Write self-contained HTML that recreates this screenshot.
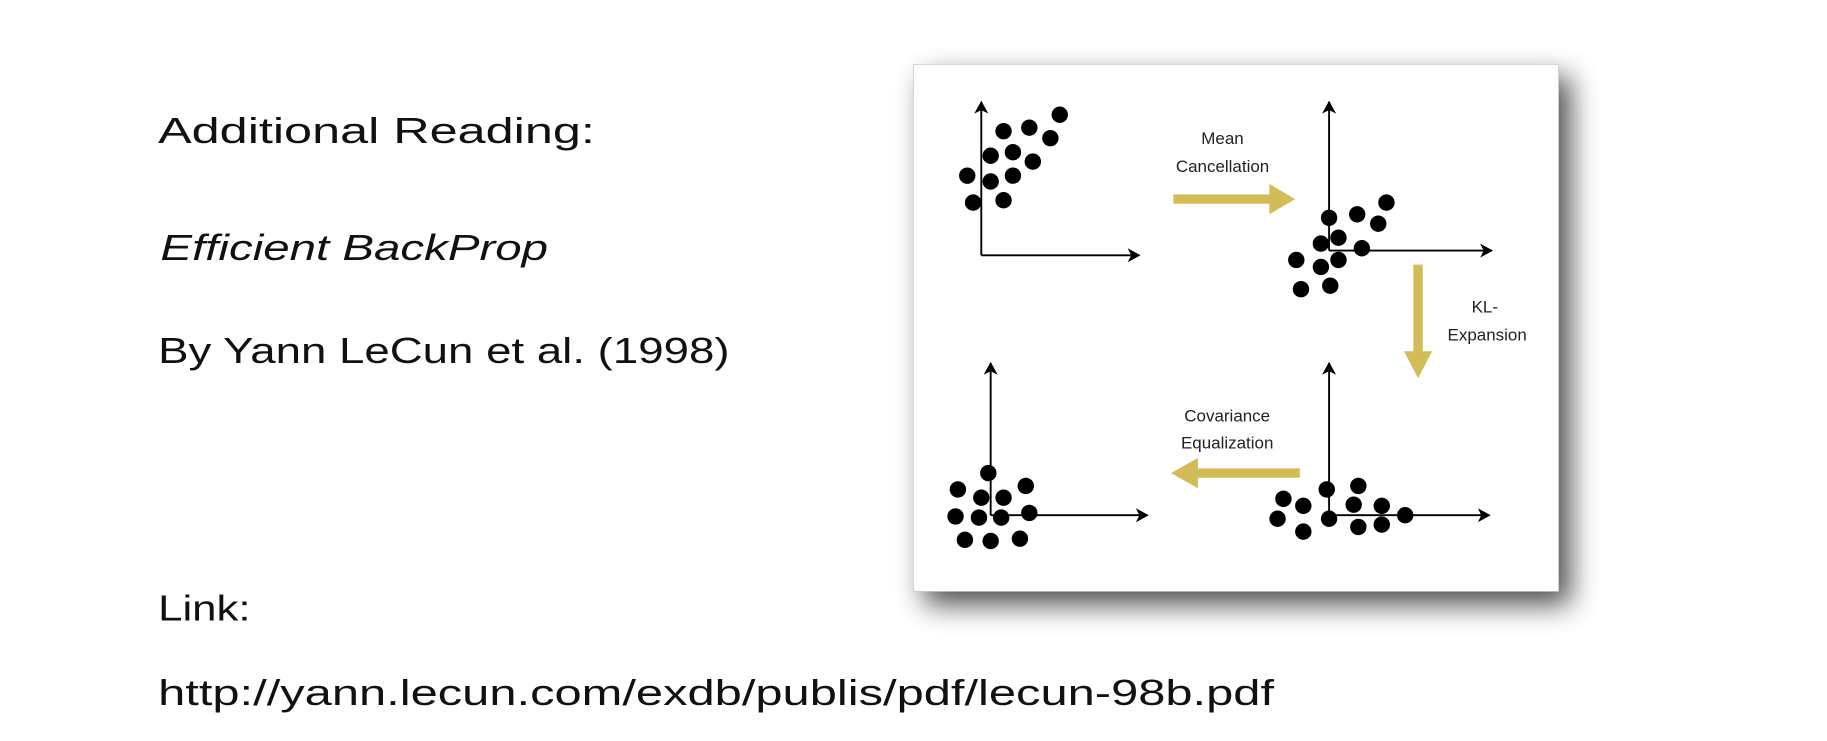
<!DOCTYPE html>
<html><head><meta charset="utf-8"><style>
html,body{margin:0;padding:0;background:#fff;width:1827px;height:741px;overflow:hidden}
svg{display:block}
</style></head><body>
<svg width="1827" height="741" viewBox="0 0 1560.2 632.8" xmlns="http://www.w3.org/2000/svg">
<defs>
<filter id="sh" x="-15%" y="-15%" width="140%" height="140%">
<feGaussianBlur in="SourceAlpha" stdDeviation="12"/>
<feOffset dx="10" dy="11"/>
<feComponentTransfer><feFuncA type="linear" slope="0.7"/></feComponentTransfer>
<feMerge><feMergeNode/><feMergeNode in="SourceGraphic"/></feMerge>
</filter>
<marker id="ah" markerWidth="12" markerHeight="12" refX="10" refY="6" orient="auto" markerUnits="userSpaceOnUse">
<path d="M0,0 L11,6 L0,12 L3,6 Z" fill="#000"/>
</marker>
</defs>
<g font-family="'Liberation Sans',sans-serif" fill="#111" font-size="31">
<text x="135" y="122" textLength="373" lengthAdjust="spacingAndGlyphs">Additional Reading:</text>
<text x="137" y="222" font-style="italic" textLength="331" lengthAdjust="spacingAndGlyphs">Efficient BackProp</text>
<text x="135" y="310" textLength="488" lengthAdjust="spacingAndGlyphs">By Yann LeCun et al. (1998)</text>
<text x="135" y="530" textLength="79" lengthAdjust="spacingAndGlyphs">Link:</text>
<text x="135" y="602" textLength="953" lengthAdjust="spacingAndGlyphs">http://yann.lecun.com/exdb/publis/pdf/lecun-98b.pdf</text>
</g>
<rect x="780" y="55" width="551" height="450" fill="#fff" stroke="#bbb" stroke-width="0.5" filter="url(#sh)"/>
<g stroke="#000" stroke-width="1.6" fill="none" marker-end="url(#ah)">
<line x1="838" y1="218" x2="838" y2="87"/><line x1="838" y1="218" x2="973" y2="218"/>
<line x1="1135" y1="214" x2="1135" y2="87"/><line x1="1135" y1="214" x2="1274" y2="214"/>
<line x1="846" y1="440" x2="846" y2="310"/><line x1="846" y1="440" x2="980" y2="440"/>
<line x1="1135" y1="440" x2="1135" y2="310"/><line x1="1135" y1="440" x2="1272" y2="440"/>
</g>
<g fill="#000">
<circle cx="857" cy="112" r="7"/><circle cx="879" cy="109" r="7"/><circle cx="905" cy="98" r="7"/><circle cx="897" cy="118" r="7"/><circle cx="846" cy="133" r="7"/><circle cx="865" cy="130" r="7"/><circle cx="882" cy="138" r="7"/><circle cx="826" cy="150" r="7"/><circle cx="846" cy="155" r="7"/><circle cx="865" cy="150" r="7"/><circle cx="831" cy="173" r="7"/><circle cx="857" cy="171" r="7"/>
<circle cx="1135" cy="186" r="7"/><circle cx="1159" cy="183" r="7"/><circle cx="1184" cy="173" r="7"/><circle cx="1177" cy="191" r="7"/><circle cx="1128" cy="208" r="7"/><circle cx="1143" cy="203" r="7"/><circle cx="1163" cy="212" r="7"/><circle cx="1107" cy="222" r="7"/><circle cx="1128" cy="228" r="7"/><circle cx="1143" cy="222" r="7"/><circle cx="1111" cy="247" r="7"/><circle cx="1136" cy="244" r="7"/>
<circle cx="844" cy="404" r="7"/><circle cx="818" cy="418" r="7"/><circle cx="838" cy="425" r="7"/><circle cx="857" cy="425" r="7"/><circle cx="876" cy="415" r="7"/><circle cx="816" cy="441" r="7"/><circle cx="836" cy="442" r="7"/><circle cx="855" cy="442" r="7"/><circle cx="879" cy="438" r="7"/><circle cx="824" cy="461" r="7"/><circle cx="846" cy="462" r="7"/><circle cx="871" cy="460" r="7"/>
<circle cx="1133" cy="418" r="7"/><circle cx="1160" cy="415" r="7"/><circle cx="1096" cy="426" r="7"/><circle cx="1113" cy="432" r="7"/><circle cx="1156" cy="431" r="7"/><circle cx="1180" cy="432" r="7"/><circle cx="1091" cy="443" r="7"/><circle cx="1135" cy="443" r="7"/><circle cx="1160" cy="450" r="7"/><circle cx="1180" cy="448" r="7"/><circle cx="1200" cy="440" r="7"/><circle cx="1113" cy="454" r="7"/>
</g>
<g fill="#d2bc58">
<path d="M1002,166 H1084 V157 L1106,170 L1084,183 V174 H1002 Z"/>
<path d="M1207,226 V300 H1199 L1211,323 L1223,300 H1215 V226 Z"/>
<path d="M1110,400 H1023 V391 L1000,404 L1023,417 V408 H1110 Z"/>
</g>
<g font-family="'Liberation Sans',sans-serif" font-size="14.5" fill="#222" text-anchor="middle">
<text x="1044" y="123">Mean</text><text x="1044" y="147">Cancellation</text>
<text x="1268" y="267">KL-</text><text x="1270" y="291">Expansion</text>
<text x="1048" y="360">Covariance</text><text x="1048" y="383">Equalization</text>
</g>
</svg>
</body></html>
